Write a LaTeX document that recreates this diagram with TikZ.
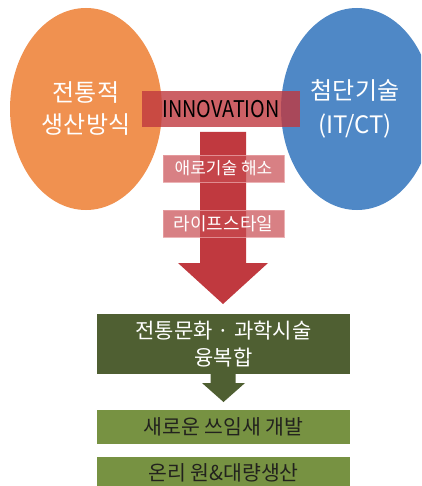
\documentclass[tikz,border=0pt]{standalone}
\usepackage{fontspec}
\usepackage{graphicx}
\setmainfont{Noto Sans CJK KR}
\usetikzlibrary{shapes.geometric}
\definecolor{orangeC}{RGB}{240,145,80}
\definecolor{blueC}{RGB}{79,136,198}
\definecolor{redC}{RGB}{192,57,63}
\definecolor{labC}{RGB}{200,75,80}
\definecolor{labL}{RGB}{232,160,163}
\definecolor{dgreen}{RGB}{79,95,50}
\definecolor{lgreen}{RGB}{119,146,66}
\definecolor{darktext}{RGB}{34,34,30}
\tikzset{
  blob/.style={ellipse, inner sep=0pt, minimum width=152pt, minimum height=202pt, text=white, align=center, font=\fontsize{24}{32}\selectfont},
  bar/.style={rectangle, inner sep=0pt, fill=redC, fill opacity=0.8, text opacity=1, minimum width=158pt, minimum height=36pt},
  labbox/.style={rectangle, inner sep=0pt, fill=labC, fill opacity=0.7, text opacity=1, draw=labL, draw opacity=0.8, line width=0.6pt, minimum width=121pt, minimum height=27pt, text=white, font=\fontsize{17}{18}\selectfont},
  darkbox/.style={rectangle, inner sep=0pt, fill=dgreen, minimum width=253pt, minimum height=60pt, text=white, align=center, font=\fontsize{21}{26.5}\selectfont},
  lightbox/.style={rectangle, inner sep=0pt, fill=lgreen, minimum width=253pt, minimum height=34pt, text=darktext, font=\fontsize{20.5}{22}\selectfont}
}
\begin{document}
\begin{tikzpicture}[x=1pt,y=-1pt]
\useasboundingbox (0,0) rectangle (421,486);
\clip (0,0) rectangle (421,486);
\fill[white] (0,0) rectangle (421,486);
% ellipses
\node[blob, fill=orangeC] (trad) at (86,109) {전통적\\생산방식};
\node[blob, fill=blueC] (tech) at (357,109) {};
\node[text=white, align=center, font=\fontsize{24}{34}\selectfont] (techtxt) at (355,109) {첨단기술\\(IT/CT)};
% INNOVATION bar
\node[bar] (inno) at (221,109) {};
\node[text=black, font=\fontsize{23}{23}\selectfont, inner sep=0pt] (innotxt) at (221,109) {\scalebox{0.86}[1]{INNOVATION}};
% big red arrow
\fill[redC] (200,132) -- (246,132) -- (246,263) -- (268,263) -- (223,304) -- (178,263) -- (200,263) -- cycle;
% labels
\node[labbox] (lab1) at (223.5,168.5) {애로기술 해소};
\node[labbox, font=\fontsize{18}{19}\selectfont] (lab2) at (223.5,223.5) {라이프스타일};
% dark box
\node[darkbox] (fusion) at (223.5,344) {전통문화 · 과학시술\\융복합};
% small green arrow
\fill[dgreen] (210.5,373) -- (235.5,373) -- (235.5,383) -- (245,383) -- (223.5,402) -- (202,383) -- (210.5,383) -- cycle;
% light boxes
\node[lightbox] (newuse) at (223.5,427) {새로운 쓰임새 개발};
\node[lightbox] (only) at (223.5,474) {\raisebox{3pt}{온리 원\&대량생산}};
\end{tikzpicture}
\end{document}
